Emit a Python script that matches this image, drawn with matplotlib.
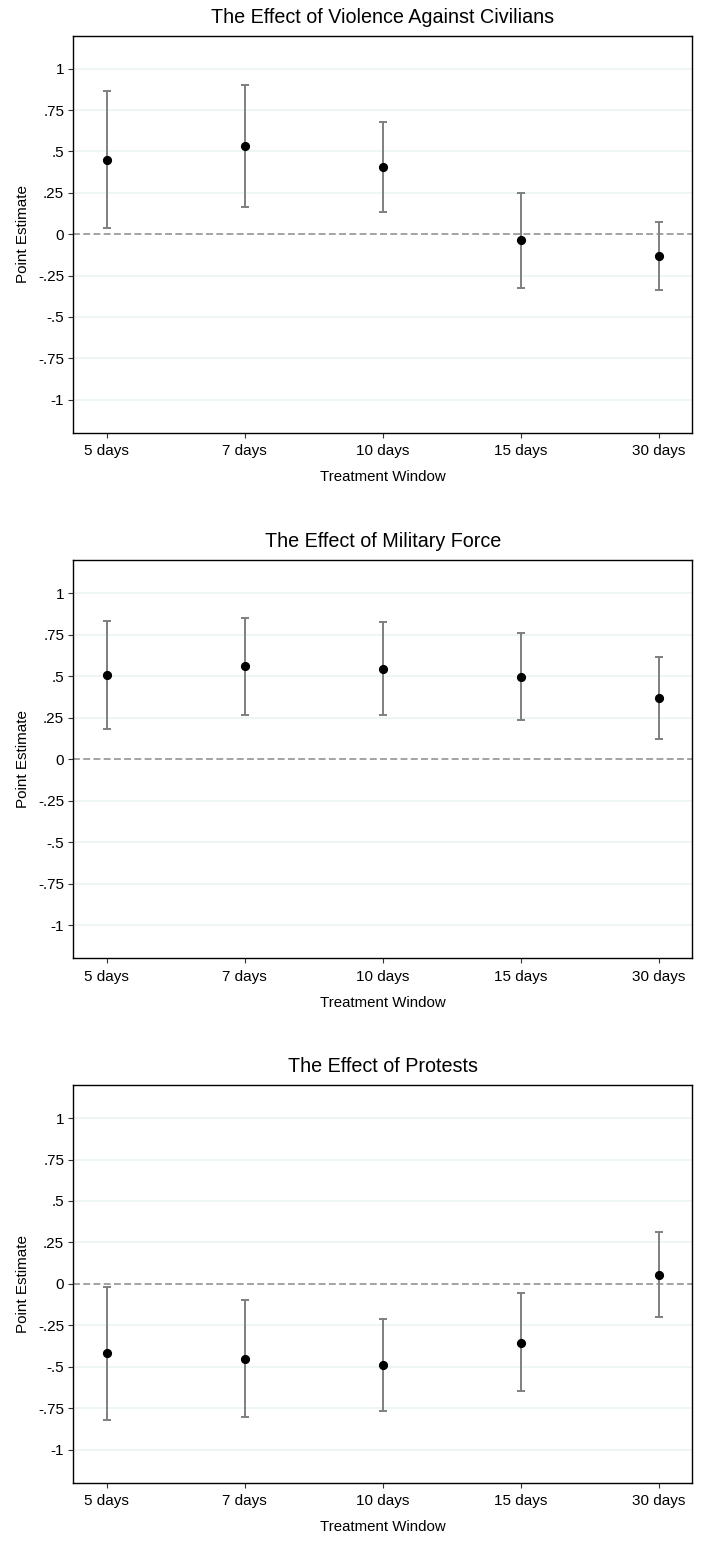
import numpy as np
import matplotlib
matplotlib.use('Agg')
import matplotlib.pyplot as plt

plt.rcParams['font.family'] = ['Liberation Sans', 'DejaVu Sans']

windows = ['5 days', '7 days', '10 days', '15 days', '30 days']
yticks = [1, 0.75, 0.5, 0.25, 0, -0.25, -0.5, -0.75, -1]
ytick_labels = ['1', '.75', '.5', '.25', '0', '-.25', '-.5', '-.75', '-1']

titles = ['The Effect of Violence Against Civilians',
          'The Effect of Military Force',
          'The Effect of Protests']

# point estimates and 95% bounds
civ_est = [0.451, 0.531, 0.406, -0.038, -0.133]
civ_hi = [0.867, 0.901, 0.676, 0.252, 0.074]
civ_lo = [0.038, 0.165, 0.137, -0.328, -0.338]

mil_est = [0.509, 0.560, 0.545, 0.495, 0.370]
mil_hi = [0.834, 0.853, 0.826, 0.760, 0.616]
mil_lo = [0.182, 0.269, 0.267, 0.234, 0.125]

pro_est = [-0.418, -0.452, -0.492, -0.354, 0.054]
pro_hi = [-0.019, -0.096, -0.213, -0.056, 0.310]
pro_lo = [-0.822, -0.805, -0.768, -0.649, -0.201]

panels = [(civ_est, civ_lo, civ_hi),
          (mil_est, mil_lo, mil_hi),
          (pro_est, pro_lo, pro_hi)]

W, H = 703, 1543
fig = plt.figure(figsize=(W/100., H/100.), dpi=100)

# axes boxes in pixels: (top, bottom)
boxes = [(35.7, 432.7), (560.3, 958.3), (1085.0, 1482.7)]
left_px, right_px = 73.3, 692.3

gray = '#7f7f7f'
x = np.arange(1, len(windows) + 1)

for (top, bot), title, (est, lo, hi) in zip(boxes, titles, panels):
    ax = fig.add_axes([left_px/W, 1 - bot/H, (right_px - left_px)/W, (bot - top)/H])
    est = np.array(est)
    lo = np.array(lo)
    hi = np.array(hi)

    for yv in yticks:
        if yv != 0:
            ax.axhline(yv, color='#eaf2f3', lw=1.1, zorder=0)
    ax.axhline(0, color='#8a8a8a', lw=1.1, dashes=(4.5, 2.2), zorder=1)

    ax.errorbar(x, est, yerr=[est - lo, hi - est], fmt='none',
                ecolor=gray, elinewidth=1.4, capsize=2.9, capthick=1.4, zorder=2)
    ax.plot(x, est, 'o', color='black', markersize=5.6, zorder=3)

    ax.set_xlim(0.758, 5.24)
    ax.set_ylim(-1.2, 1.2)
    ax.set_xticks(x)
    ax.set_xticklabels(windows, fontsize=11)
    ax.set_yticks(yticks)
    ax.set_yticklabels(ytick_labels, fontsize=11)
    ax.tick_params(axis='x', length=3.6, width=0.8, color='#333333', pad=4.5)
    ax.tick_params(axis='y', length=3.6, width=0.8, color='#333333', pad=3)

    for sp in ax.spines.values():
        sp.set_linewidth(1.0)
        sp.set_color('black')

    ax.set_title(title, fontsize=14.2, pad=9.5)
    ax.set_xlabel('Treatment Window', fontsize=10.8, labelpad=9)
    ax.set_ylabel('Point Estimate', fontsize=11, labelpad=6)

fig.savefig('out.png', dpi=100, facecolor='white')
